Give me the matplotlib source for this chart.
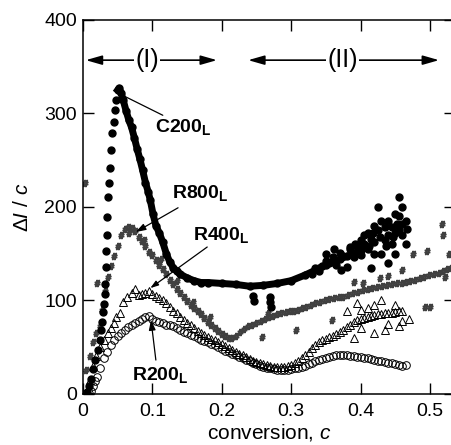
import matplotlib
matplotlib.use("Agg")
import matplotlib.pyplot as plt

plt.rcParams['font.family'] = 'Liberation Sans'
plt.rcParams['mathtext.fontset'] = 'custom'
plt.rcParams['mathtext.rm'] = 'Liberation Sans'
plt.rcParams['mathtext.it'] = 'Liberation Sans:italic'
plt.rcParams['mathtext.bf'] = 'Liberation Sans:bold'

# C200_L: sparse rise, dense descent, scattered tail
c200_rise_x = [0.006, 0.009, 0.012, 0.015, 0.018, 0.021, 0.024, 0.026, 0.028, 0.029, 0.030,
               0.031, 0.032, 0.033, 0.033, 0.034, 0.034, 0.036, 0.038, 0.039, 0.041, 0.042,
               0.045, 0.046, 0.048]
c200_rise_y = [2, 8, 16, 26, 36, 47, 58, 68, 77, 87, 96, 107, 117, 136, 153, 170, 189, 210,
               226, 242, 261, 279, 291, 304, 314]
c200_x = [0.050, 0.052, 0.055, 0.058, 0.062, 0.066, 0.070, 0.074, 0.078, 0.082, 0.086, 0.090,
          0.094, 0.097, 0.101, 0.105, 0.110, 0.115, 0.120, 0.125, 0.130, 0.135, 0.140, 0.150,
          0.160, 0.170, 0.180, 0.200, 0.220, 0.240, 0.260, 0.280, 0.300, 0.320, 0.340, 0.350,
          0.360, 0.370, 0.380, 0.390, 0.400]
c200_y = [325, 327, 322, 314, 303, 293, 285, 274, 262, 251, 239, 226, 216, 207, 192, 180, 172,
          162, 150, 141, 135, 131, 128, 124, 121, 119, 119, 118, 117, 115, 116, 118, 121, 127,
          134, 138, 141, 144, 147, 150, 154]
c200_tail_x = [0.245, 0.246, 0.270, 0.270, 0.271, 0.330, 0.335, 0.340, 0.345, 0.350, 0.355,
               0.360, 0.365, 0.370, 0.375, 0.380, 0.385, 0.390, 0.395, 0.400, 0.400, 0.405,
               0.405, 0.410, 0.410, 0.415, 0.415, 0.420, 0.420, 0.420, 0.425, 0.425, 0.428,
               0.430, 0.430, 0.435, 0.435, 0.440, 0.440, 0.440, 0.445, 0.445, 0.450, 0.450,
               0.450, 0.455, 0.455, 0.455, 0.460, 0.460, 0.460, 0.465, 0.465, 0.467, 0.350,
               0.372, 0.385, 0.412, 0.447, 0.362, 0.392, 0.418, 0.437, 0.452]
c200_tail_y = [105, 99, 104, 98, 93, 128, 134, 131, 137, 142, 140, 146, 138, 151, 147, 136, 155,
               146, 158, 165, 148, 160, 170, 172, 155, 135, 166, 180, 162, 150, 200, 175, 168,
               150, 185, 165, 178, 185, 170, 140, 178, 160, 192, 150, 172, 210, 175, 190, 200,
               170, 182, 185, 160, 176, 150, 132, 157, 158, 168, 155, 160, 172, 158, 182]

# R800_L (# symbols)
r800_x = [0.003, 0.005, 0.010, 0.015, 0.019, 0.020, 0.024, 0.028, 0.032, 0.036, 0.040, 0.045,
          0.050, 0.055, 0.060, 0.065, 0.070, 0.075, 0.080, 0.085, 0.090, 0.095, 0.100, 0.105,
          0.110, 0.115, 0.120, 0.125, 0.130, 0.135, 0.140, 0.145, 0.150, 0.155, 0.160, 0.165,
          0.170, 0.175, 0.180, 0.185, 0.190, 0.195, 0.200, 0.205, 0.210, 0.215, 0.220, 0.226,
          0.232, 0.238, 0.244, 0.250, 0.256, 0.262, 0.268, 0.274, 0.280, 0.286, 0.292, 0.298,
          0.304, 0.310, 0.316, 0.322, 0.328, 0.334, 0.341, 0.348, 0.355, 0.362, 0.369, 0.375,
          0.382, 0.389, 0.396, 0.403, 0.410, 0.417, 0.424, 0.431, 0.438, 0.445, 0.452, 0.459,
          0.466, 0.471, 0.478, 0.485, 0.492, 0.499, 0.506, 0.513, 0.519, 0.525, 0.530,
          0.258, 0.267, 0.307, 0.359, 0.390, 0.404, 0.428, 0.476, 0.496, 0.517, 0.519, 0.493,
          0.500, 0.522, 0.528, 0.460, 0.440, 0.066, 0.088, 0.112, 0.136, 0.158, 0.183]
r800_y = [226, 25, 40, 55, 65, 118, 72, 90, 110, 125, 137, 147, 158, 170, 176, 178, 177, 174,
          168, 163, 158, 152, 148, 143, 138, 133, 128, 122, 117, 112, 108, 104, 99, 95, 92, 88,
          85, 81, 77, 74, 70, 67, 64, 62, 60, 60, 62, 66, 69, 72, 74, 76, 78, 80, 82, 83, 85, 86,
          87, 88, 89, 90, 92, 93, 95, 97, 98, 100, 101, 102, 104, 104, 106, 108, 109, 111, 112,
          113, 114, 115, 116, 117, 118, 119, 120, 121, 122, 124, 125, 127, 128, 129, 131, 133, 134,
          61, 86, 68, 79, 120, 118, 124, 150, 153, 182, 170, 93, 93, 125, 150, 132, 126,
          172, 165, 144, 121, 98, 82]

# R400_L (open triangles)
r400_x = [0.008, 0.010, 0.014, 0.019, 0.024, 0.030, 0.036, 0.040, 0.044, 0.048, 0.053, 0.058,
          0.064, 0.070, 0.075, 0.080, 0.085, 0.090, 0.095, 0.100, 0.105, 0.110, 0.115, 0.120,
          0.125, 0.130, 0.135, 0.140, 0.145, 0.150, 0.155, 0.160, 0.165, 0.170, 0.175, 0.180,
          0.185, 0.190, 0.195, 0.200, 0.205, 0.210, 0.215, 0.220, 0.225, 0.230, 0.235, 0.240,
          0.245, 0.250, 0.255, 0.260, 0.265, 0.270, 0.275, 0.280, 0.285, 0.290, 0.295, 0.300,
          0.305, 0.310, 0.315, 0.320, 0.325, 0.330, 0.335, 0.340, 0.345, 0.350, 0.355, 0.360,
          0.365, 0.370, 0.375, 0.380, 0.385, 0.390, 0.395, 0.400, 0.405, 0.410, 0.415, 0.420,
          0.425, 0.430, 0.435, 0.440, 0.445, 0.450, 0.455, 0.460,
          0.380, 0.390, 0.400, 0.410, 0.420, 0.430, 0.440, 0.450, 0.460, 0.470, 0.400, 0.420,
          0.395, 0.435, 0.455]
r400_y = [5, 15, 30, 40, 50, 58, 65, 70, 76, 82, 86, 98, 103, 108, 112, 106, 107, 108, 110,
          107, 105, 102, 100, 97, 93, 89, 86, 82, 79, 76, 73, 70, 67, 65, 63, 61, 59, 57, 55,
          53, 51, 49, 47, 45, 43, 41, 39, 37, 35, 34, 33, 32, 31, 30, 29, 29, 29, 29, 30, 31,
          33, 35, 38, 41, 45, 49, 52, 55, 57, 59, 61, 62, 64, 66, 68, 71, 74, 77, 79, 80, 81,
          82, 83, 84, 85, 85, 86, 86, 86, 87, 88, 88,
          88, 60, 70, 92, 65, 100, 75, 95, 78, 80, 90, 95, 97, 68, 72]

# R200_L (open circles)
r200_x = [0.012, 0.015, 0.018, 0.020, 0.025, 0.030, 0.035, 0.040, 0.045, 0.050, 0.055, 0.060,
          0.065, 0.070, 0.075, 0.080, 0.085, 0.090, 0.095, 0.100, 0.105, 0.110, 0.115, 0.120,
          0.125, 0.130, 0.135, 0.140, 0.145, 0.150, 0.155, 0.160, 0.165, 0.170, 0.175, 0.180,
          0.185, 0.190, 0.195, 0.200, 0.205, 0.210, 0.215, 0.220, 0.225, 0.230, 0.235, 0.240,
          0.245, 0.250, 0.255, 0.260, 0.265, 0.270, 0.275, 0.280, 0.285, 0.290, 0.295, 0.300,
          0.305, 0.310, 0.315, 0.320, 0.325, 0.330, 0.335, 0.340, 0.345, 0.350, 0.355, 0.360,
          0.365, 0.370, 0.375, 0.380, 0.385, 0.390, 0.395, 0.400, 0.405, 0.410, 0.415, 0.420,
          0.425, 0.430, 0.435, 0.440, 0.445, 0.450, 0.455, 0.460, 0.465]
r200_y = [3, 8, 14, 18, 28, 38, 45, 52, 57, 62, 65, 68, 71, 73, 76, 78, 80, 82, 83, 80, 78, 77,
          76, 74, 73, 72, 70, 68, 66, 65, 63, 62, 60, 58, 56, 55, 53, 52, 50, 48, 46, 45, 43,
          41, 39, 38, 36, 35, 33, 32, 30, 29, 28, 27, 26, 25, 25, 25, 25, 26, 27, 28, 29, 30,
          32, 33, 35, 36, 37, 38, 39, 40, 41, 41, 41, 41, 40, 40, 39, 39, 38, 38, 37, 36, 35,
          35, 34, 33, 33, 32, 31, 30, 31]

fig = plt.figure(figsize=(4.52, 4.45), dpi=100)
ax = fig.add_axes([0.1836, 0.1153, 0.823, 0.8398])

ax.plot(r200_x, r200_y, 'o', mfc='none', mec='k', ms=5.5, mew=0.7)
ax.plot(r400_x, r400_y, '^', mfc='none', mec='k', ms=5.5, mew=0.7)
ax.plot(r800_x, r800_y, ls='none', marker='$\\#$', color='0.25', ms=4.5)
ax.plot(c200_rise_x, c200_rise_y, 'o', color='k', ms=5)
ax.plot(c200_x, c200_y, '-o', color='k', lw=5, ms=5)
ax.plot(c200_tail_x, c200_tail_y, 'o', color='k', ms=5)

# region arrows
head = '<|-|>,head_length=0.7,head_width=0.2'
ax.annotate('', xy=(0.004, 357), xytext=(0.193, 357),
            arrowprops=dict(arrowstyle=head, color='k', lw=1.2, mutation_scale=14,
                            shrinkA=0, shrinkB=0))
ax.annotate('', xy=(0.238, 357), xytext=(0.513, 357),
            arrowprops=dict(arrowstyle=head, color='k', lw=1.2, mutation_scale=14,
                            shrinkA=0, shrinkB=0))
ax.text(0.092, 357, '(I)', ha='center', va='center', fontsize=18,
        bbox=dict(fc='white', ec='none', pad=1))
ax.text(0.374, 357, '(II)', ha='center', va='center', fontsize=18,
        bbox=dict(fc='white', ec='none', pad=1))

# curve labels
lab = dict(fontsize=14, fontweight='bold', ha='left', va='baseline')
ax.text(0.104, 280, 'C200$_\\mathbf{L}$', **lab)
ax.text(0.128, 209, 'R800$_\\mathbf{L}$', **lab)
ax.text(0.1585, 165, 'R400$_\\mathbf{L}$', **lab)
ax.text(0.0706, 15, 'R200$_\\mathbf{L}$', **lab)

ax.annotate('', xy=(0.050, 322), xytext=(0.115, 298),
            arrowprops=dict(arrowstyle='-', color='k', lw=0.9, shrinkA=0, shrinkB=0))
small = '-|>,head_length=0.6,head_width=0.2'
ax.annotate('', xy=(0.076, 173), xytext=(0.137, 199),
            arrowprops=dict(arrowstyle=small, color='k', lw=0.9, mutation_scale=10,
                            shrinkA=0, shrinkB=0))
ax.annotate('', xy=(0.097, 113), xytext=(0.179, 157),
            arrowprops=dict(arrowstyle=small, color='k', lw=0.9, mutation_scale=8,
                            shrinkA=0, shrinkB=0))
ax.annotate('', xy=(0.098, 79), xytext=(0.105, 36),
            arrowprops=dict(arrowstyle=small, color='k', lw=0.9, mutation_scale=10,
                            shrinkA=0, shrinkB=0))

ax.set_xlim(0, 0.536)
ax.set_ylim(0, 400)
ax.set_xticks([0, 0.1, 0.2, 0.3, 0.4, 0.5])
ax.set_xticklabels(['0', '0.1', '0.2', '0.3', '0.4', '0.5'])
ax.set_yticks([0, 100, 200, 300, 400])
ax.tick_params(direction='in', top=True, right=True, length=8, width=1, labelsize=14)
ax.tick_params(axis='x', pad=6.5)
ax.tick_params(axis='y', pad=4.3)
for s in ax.spines.values():
    s.set_linewidth(1.1)

ax.set_xlabel('conversion, $c$', fontsize=15, labelpad=2)
ax.set_ylabel('Δ$I$ / $c$', fontsize=15, labelpad=9)

fig.savefig('out.png', dpi=100)
